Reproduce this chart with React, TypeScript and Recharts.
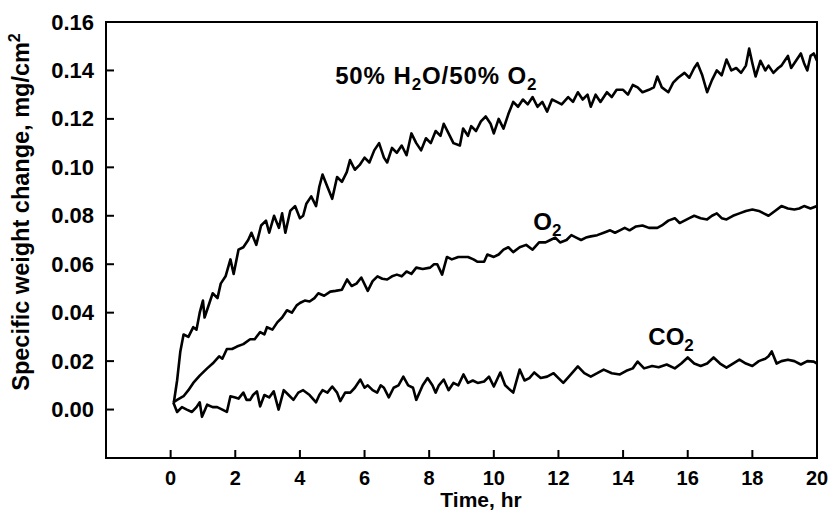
import React from 'react';
import { LineChart, Line, XAxis, YAxis, ReferenceArea, ReferenceDot, Label } from 'recharts';

const FONT = '"Liberation Sans", Arial, Helvetica, sans-serif';

// 50% H2O / 50% O2
const h2oTime = [0.1,0.2,0.3,0.4,0.55,0.7,0.8,0.9,1.0,1.05,1.2,1.3,1.45,1.55,1.7,1.85,1.95,2.1,2.25,2.4,2.5,2.65,2.8,2.95,3.05,3.2,3.35,3.45,3.55,3.7,3.85,4.0,4.1,4.2,4.35,4.5,4.6,4.7,4.85,5.0,5.15,5.3,5.45,5.55,5.7,5.85,6.0,6.15,6.3,6.45,6.6,6.7,6.85,7.0,7.15,7.3,7.45,7.6,7.75,7.9,8.05,8.2,8.35,8.45,8.6,8.75,8.95,9.05,9.2,9.3,9.45,9.6,9.75,9.9,10.0,10.15,10.3,10.45,10.6,10.75,10.9,11.05,11.2,11.35,11.5,11.65,11.8,11.95,12.1,12.3,12.45,12.6,12.75,12.9,13.0,13.15,13.3,13.5,13.65,13.8,14.0,14.15,14.3,14.45,14.6,14.8,14.95,15.06,15.2,15.4,15.55,15.7,15.9,16.05,16.2,16.3,16.45,16.6,16.75,16.9,17.05,17.2,17.35,17.5,17.65,17.8,17.9,18.0,18.1,18.25,18.4,18.5,18.65,18.8,18.9,19.0,19.1,19.2,19.35,19.5,19.6,19.7,19.8,19.9,20.0];
const h2oVals = [0.003,0.012,0.024,0.031,0.030,0.034,0.033,0.040,0.045,0.038,0.044,0.048,0.046,0.052,0.055,0.062,0.056,0.066,0.067,0.070,0.073,0.068,0.076,0.078,0.073,0.080,0.075,0.081,0.073,0.082,0.084,0.079,0.080,0.085,0.088,0.084,0.092,0.097,0.092,0.087,0.096,0.094,0.098,0.103,0.099,0.101,0.104,0.102,0.107,0.110,0.104,0.102,0.108,0.106,0.109,0.105,0.114,0.110,0.107,0.112,0.110,0.115,0.113,0.118,0.114,0.110,0.109,0.116,0.113,0.117,0.115,0.119,0.121,0.118,0.114,0.120,0.116,0.122,0.127,0.125,0.128,0.126,0.129,0.125,0.127,0.123,0.128,0.127,0.126,0.129,0.127,0.131,0.128,0.130,0.125,0.130,0.127,0.131,0.129,0.132,0.132,0.130,0.134,0.133,0.131,0.132,0.133,0.1375,0.133,0.131,0.135,0.137,0.139,0.137,0.141,0.143,0.138,0.131,0.136,0.140,0.138,0.1445,0.140,0.141,0.139,0.142,0.149,0.143,0.1375,0.144,0.140,0.142,0.139,0.141,0.142,0.144,0.146,0.141,0.144,0.147,0.143,0.140,0.146,0.147,0.144];

// O2
const o2Time = [0.08,0.2,0.4,0.55,0.7,0.9,1.13,1.3,1.5,1.6,1.74,1.9,2.05,2.25,2.46,2.6,2.77,2.9,2.98,3.15,3.3,3.45,3.6,3.75,3.9,4.0,4.15,4.3,4.45,4.57,4.75,4.94,5.1,5.3,5.46,5.6,5.75,5.9,6.1,6.25,6.4,6.55,6.7,6.85,7.0,7.15,7.3,7.45,7.6,7.8,8.03,8.15,8.25,8.4,8.55,8.7,8.9,9.06,9.2,9.37,9.5,9.7,9.8,10.0,10.15,10.3,10.45,10.6,10.8,11.0,11.2,11.4,11.6,11.75,11.9,12.05,12.25,12.4,12.55,12.7,12.85,13.0,13.2,13.4,13.6,13.75,13.9,14.05,14.2,14.4,14.6,14.8,15.06,15.2,15.4,15.6,15.75,15.9,16.05,16.2,16.4,16.6,16.75,16.9,17.05,17.2,17.4,17.6,17.8,18.0,18.2,18.35,18.5,18.7,18.9,19.1,19.3,19.45,19.6,19.8,20.0];
const o2Vals = [0.003,0.004,0.0055,0.008,0.011,0.014,0.017,0.019,0.022,0.021,0.025,0.025,0.026,0.027,0.029,0.029,0.032,0.031,0.034,0.033,0.036,0.038,0.041,0.040,0.043,0.044,0.045,0.0446,0.046,0.048,0.047,0.0487,0.049,0.0495,0.0537,0.051,0.052,0.0545,0.049,0.053,0.055,0.054,0.0537,0.055,0.0557,0.055,0.057,0.056,0.0586,0.058,0.0586,0.060,0.060,0.0557,0.063,0.062,0.063,0.063,0.063,0.062,0.061,0.061,0.064,0.063,0.064,0.066,0.067,0.065,0.067,0.068,0.066,0.069,0.069,0.070,0.071,0.069,0.070,0.072,0.071,0.070,0.071,0.0715,0.072,0.073,0.074,0.073,0.074,0.075,0.074,0.0756,0.076,0.075,0.075,0.076,0.078,0.079,0.077,0.078,0.079,0.080,0.079,0.0785,0.080,0.081,0.079,0.0785,0.080,0.081,0.082,0.0826,0.082,0.081,0.080,0.082,0.084,0.083,0.0826,0.083,0.084,0.083,0.084];

// CO2
const co2Time = [0.08,0.2,0.35,0.5,0.66,0.8,0.9,0.97,1.13,1.3,1.44,1.6,1.74,1.85,2.0,2.1,2.25,2.35,2.46,2.55,2.67,2.77,2.9,3.05,3.19,3.34,3.5,3.65,3.8,3.95,4.1,4.3,4.5,4.6,4.7,4.85,5.0,5.15,5.25,5.4,5.56,5.7,5.87,6.0,6.1,6.25,6.39,6.5,6.6,6.75,6.9,7.05,7.2,7.35,7.5,7.6,7.8,7.95,8.1,8.2,8.3,8.45,8.6,8.75,8.9,9.06,9.2,9.35,9.5,9.7,9.85,10.0,10.2,10.35,10.6,10.8,10.95,11.1,11.25,11.45,11.65,11.85,12.0,12.15,12.35,12.6,12.8,13.0,13.2,13.4,13.65,13.9,14.1,14.3,14.45,14.65,14.9,15.1,15.35,15.6,15.8,16.0,16.2,16.4,16.6,16.8,17.0,17.2,17.4,17.6,17.8,18.0,18.2,18.4,18.5,18.6,18.75,18.9,19.1,19.3,19.5,19.7,19.9,20.0];
const co2Vals = [0.003,-0.001,0.001,0.000,-0.001,0.001,0.003,-0.003,0.002,0.001,0.001,0.000,-0.001,0.0055,0.005,0.0045,0.007,0.004,0.004,0.006,0.0075,0.0013,0.006,0.005,0.0075,0.000,0.008,0.006,0.004,0.007,0.008,0.006,0.003,0.006,0.008,0.007,0.0095,0.007,0.0035,0.007,0.007,0.009,0.0124,0.009,0.010,0.008,0.007,0.010,0.009,0.005,0.009,0.010,0.0136,0.010,0.009,0.004,0.010,0.013,0.010,0.007,0.010,0.0124,0.008,0.011,0.010,0.0145,0.011,0.012,0.011,0.0116,0.0136,0.0095,0.0153,0.010,0.007,0.0165,0.012,0.013,0.0153,0.013,0.0136,0.015,0.013,0.011,0.014,0.0178,0.015,0.0136,0.015,0.0165,0.015,0.0145,0.016,0.017,0.0198,0.017,0.018,0.0175,0.0186,0.017,0.019,0.0215,0.019,0.018,0.019,0.0215,0.019,0.0173,0.019,0.0206,0.019,0.018,0.020,0.021,0.022,0.024,0.019,0.020,0.0206,0.020,0.0186,0.020,0.0198,0.019];

const xTicks = [0, 2, 4, 6, 8, 10, 12, 14, 16, 18, 20];
const yTicks = [0, 0.02, 0.04, 0.06, 0.08, 0.1, 0.12, 0.14, 0.16];

const toRows = (t: number[], v: number[]) => t.map((x, i) => ({ t: x, v: v[i] }));
const h2oData = toRows(h2oTime, h2oVals);
const o2Data = toRows(o2Time, o2Vals);
const co2Data = toRows(co2Time, co2Vals);

const XTick = (props: any) => {
  const { x, y, payload } = props;
  return (
    <g>
      <line x1={x} x2={x} y1={y} y2={y - 8} stroke="#000" strokeWidth={2} />
      <text x={x} y={y + 27} textAnchor="middle" fontFamily={FONT} fontWeight="bold" fontSize={20} fill="#000">
        {payload.value}
      </text>
    </g>
  );
};

const YTick = (props: any) => {
  const { x, y, payload } = props;
  return (
    <g>
      {payload.value < 0.159 && <line x1={x} x2={x + 8} y1={y} y2={y} stroke="#000" strokeWidth={2} />}
      <text x={x - 12} y={y + 7.5} textAnchor="end" fontFamily={FONT} fontWeight="bold" fontSize={22} fill="#000">
        {Number(payload.value).toFixed(2)}
      </text>
    </g>
  );
};

const makeLabel = (main: string, sub: string, pre?: string, sub1?: string, spacing = 0) => (props: any) => {
  const vb = props.viewBox || {};
  const x = vb.x ?? 0;
  const y = vb.y ?? 0;
  return (
    <text x={x} y={y} fontFamily={FONT} fontWeight="bold" fontSize={24} fill="#000" letterSpacing={spacing}>
      {pre !== undefined ? (
        <>
          {pre}
          <tspan dy={6} fontSize={17}>{sub1}</tspan>
          <tspan dy={-6}>{main}</tspan>
          <tspan dy={6} fontSize={17}>{sub}</tspan>
        </>
      ) : (
        <>
          {main}
          <tspan dy={6} fontSize={17}>{sub}</tspan>
        </>
      )}
    </text>
  );
};

const Empty = () => <g />;

export default function App() {
  return (
    <div style={{ position: 'absolute', left: 0, top: 0, background: '#fff' }}>
      <LineChart width={831} height={520} margin={{ top: 22, right: 14, left: 0, bottom: 0 }}>
        <XAxis
          dataKey="t"
          type="number"
          domain={[-2, 20]}
          ticks={xTicks}
          allowDataOverflow
          height={62}
          tickSize={0}
          tickMargin={0}
          tickLine={false}
          axisLine={{ stroke: '#000', strokeWidth: 2 }}
          tick={<XTick />}
          interval={0}
        >
          <Label
            content={() => (
              <text x={481} y={507} textAnchor="middle" fontFamily={FONT} fontWeight="bold" fontSize={21} fill="#000">
                Time, hr
              </text>
            )}
          />
        </XAxis>
        <YAxis
          type="number"
          domain={[-0.02, 0.16]}
          ticks={yTicks}
          allowDataOverflow
          width={106}
          tickSize={0}
          tickMargin={0}
          tickLine={false}
          axisLine={{ stroke: '#000', strokeWidth: 2 }}
          tick={<YTick />}
          interval={0}
        >
          <Label
            content={() => (
              <text
                x={29}
                y={212}
                transform="rotate(-90, 29, 212)"
                textAnchor="middle"
                fontFamily={FONT}
                fontWeight="bold"
                fontSize={23.5}
                fill="#000"
              >
                Specific weight change, mg/cm
                <tspan dy={-9} fontSize={16}>2</tspan>
              </text>
            )}
          />
        </YAxis>
        <ReferenceArea x1={-2} x2={20} y1={-0.02} y2={0.16} fill="none" stroke="#000" strokeWidth={2} ifOverflow="visible" />
        <Line data={h2oData} dataKey="v" type="linear" stroke="#000" strokeWidth={2.6} strokeLinejoin="round" dot={false} isAnimationActive={false} />
        <Line data={o2Data} dataKey="v" type="linear" stroke="#000" strokeWidth={2.6} strokeLinejoin="round" dot={false} isAnimationActive={false} />
        <Line data={co2Data} dataKey="v" type="linear" stroke="#000" strokeWidth={2.6} strokeLinejoin="round" dot={false} isAnimationActive={false} />
        <ReferenceDot x={5.09} y={0.1345} r={0} shape={<Empty />} label={{ content: makeLabel('O/50% O', '2', '50% H', '2', 0.9) }} />
        <ReferenceDot x={11.22} y={0.0743} r={0} shape={<Empty />} label={{ content: makeLabel('O', '2') }} />
        <ReferenceDot x={14.78} y={0.0268} r={0} shape={<Empty />} label={{ content: makeLabel('CO', '2') }} />
      </LineChart>
    </div>
  );
}
